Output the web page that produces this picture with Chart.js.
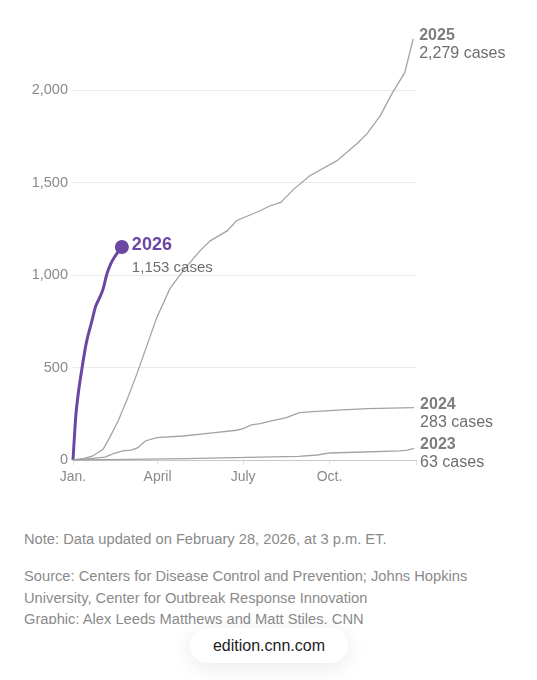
<!DOCTYPE html>
<html>
<head>
<meta charset="utf-8">
<script src="https://cdn.jsdelivr.net/npm/chart.js@4.4.1/dist/chart.umd.min.js"></script>
<style>
  html, body { margin: 0; padding: 0; background: #fff; }
  body { width: 537px; height: 680px; position: relative; overflow: hidden;
         font-family: "Liberation Sans", Arial, sans-serif; }
  #wrap { position: absolute; left: 0; top: 0; width: 537px; height: 500px; }
  .foot { position: absolute; left: 24px; color: #8a8a8a; font-size: 14.7px; line-height: 21.5px; }
  #note { top: 529px; }
  #source { top: 566px; height: 58px; overflow: hidden; }
  #pill { position: absolute; left: 190px; top: 628px; width: 158px; height: 35px;
          border-radius: 18px; background: #fff; color: #1c1c1c; font-size: 16px;
          line-height: 35px; text-align: center;
          box-shadow: 0 4px 22px rgba(0,0,0,0.09); }
</style>
</head>
<body>
<div id="wrap"><canvas id="chart" width="537" height="500"></canvas></div>
<div class="foot" id="note">Note: Data updated on February 28, 2026, at 3 p.m. ET.</div>
<div class="foot" id="source">Source: Centers for Disease Control and Prevention; Johns Hopkins<br>University, Center for Outbreak Response Innovation<br>Graphic: Alex Leeds Matthews and Matt Stiles, CNN</div>
<div id="pill">edition.cnn.com</div>
<script>
// Cumulative measles cases by day of year
const days2023 = [0, 60, 120, 199, 240, 260, 273, 300, 348, 356, 363];
const cases2023 = [0, 3, 7, 16, 20, 27, 38, 42, 49, 54, 63];

const days2024 = [0, 21, 34, 43, 53, 62, 69, 77, 89, 117, 146, 174, 181, 190, 199, 210, 227, 241, 255, 287, 313, 363];
const cases2024 = [0, 9, 16, 34, 49, 53, 67, 103, 121, 130, 145, 161, 170, 190, 197, 211, 229, 256, 262, 271, 278, 283];

const days2025 = [0, 12, 21, 32, 39, 48, 57, 68, 89, 103, 117, 135, 146, 164, 174, 199, 210, 221, 235, 252, 281, 302, 313, 327, 340, 353, 362];
const cases2025 = [0, 9, 22, 58, 121, 211, 320, 466, 769, 926, 1024, 1132, 1186, 1240, 1295, 1349, 1376, 1394, 1466, 1538, 1620, 1712, 1766, 1864, 1988, 2096, 2279];

const days2026 = [0, 3, 6, 10, 14, 20, 24, 28, 32, 36, 40, 45, 52];
const cases2026 = [0, 240, 375, 510, 630, 750, 830, 875, 925, 1005, 1060, 1105, 1153];

const years = ['2023', '2024', '2025', '2026'];
const monthTicks = [0, 90, 181, 273];
const monthLabels = ['Jan.', 'April', 'July', 'Oct.'];
const yTicks = [0, 500, 1000, 1500, 2000];

const grey = '#a3a3a3';
const purple = '#6b46a3';

function toPoints(xs, ys) {
  return xs.map((d, i) => ({ x: d, y: ys[i] }));
}

const series = [
  toPoints(days2023, cases2023),
  toPoints(days2024, cases2024),
  toPoints(days2025, cases2025),
  toPoints(days2026, cases2026)
];

// labels at the end of each line
const endLabels = {
  id: 'endLabels',
  afterDatasetsDraw(chart) {
    const ctx = chart.ctx;
    ctx.save();
    ctx.textAlign = 'left';
    ctx.textBaseline = 'alphabetic';
    chart.data.datasets.forEach((ds, i) => {
      const pts = chart.getDatasetMeta(i).data;
      const p = pts[pts.length - 1];
      const last = ds.data[ds.data.length - 1].y;
      const sub = last.toLocaleString('en-US') + ' cases';
      if (i === 3) {
        ctx.fillStyle = purple;
        ctx.font = 'bold 18px "Liberation Sans", Arial, sans-serif';
        ctx.fillText(ds.label, p.x + 10, p.y + 3);
        ctx.fillStyle = '#6e6e6e';
        ctx.font = '15px "Liberation Sans", Arial, sans-serif';
        ctx.fillText(sub, p.x + 10, p.y + 25);
      } else {
        ctx.fillStyle = '#7d7d7d';
        ctx.font = 'bold 16px "Liberation Sans", Arial, sans-serif';
        ctx.fillText(ds.label, p.x + 6, p.y + 1);
        ctx.fillStyle = '#6e6e6e';
        ctx.font = '16px "Liberation Sans", Arial, sans-serif';
        ctx.fillText(sub, p.x + 6, p.y + 19);
      }
    });
    ctx.restore();
  }
};

new Chart(document.getElementById('chart'), {
  type: 'line',
  data: {
    datasets: series.map((pts, i) => ({
      label: years[i],
      data: pts,
      borderColor: i === 3 ? purple : grey,
      backgroundColor: i === 3 ? purple : grey,
      borderWidth: i === 3 ? 3 : 1.3,
      cubicInterpolationMode: i === 3 ? 'monotone' : 'default',
      tension: 0,
      pointRadius: ctx => (i === 3 && ctx.dataIndex === pts.length - 1) ? 5.5 : 0,
      pointHoverRadius: 0,
      clip: false
    }))
  },
  options: {
    responsive: false,
    animation: false,
    events: [],
    layout: { padding: { top: 35, right: 121, bottom: 10, left: 0 } },
    plugins: { legend: { display: false }, tooltip: { enabled: false } },
    scales: {
      x: {
        type: 'linear',
        min: 0,
        max: 365,
        afterBuildTicks: s => { s.ticks = monthTicks.concat([365]).map(v => ({ value: v })); },
        afterFit: s => { s.height = 30; },
        ticks: {
          color: '#8a8a8a',
          font: { family: '"Liberation Sans", Arial, sans-serif', size: 14 },
          padding: 4,
          maxRotation: 0,
          autoSkip: false,
          callback: v => {
            const k = monthTicks.indexOf(v);
            return k >= 0 ? monthLabels[k] : '';
          }
        },
        grid: { drawOnChartArea: false, drawTicks: true, tickLength: 5, color: '#e2e2e2' },
        border: { color: '#c8c8c8', width: 1 }
      },
      y: {
        min: 0,
        max: 2300,
        afterBuildTicks: s => { s.ticks = yTicks.map(v => ({ value: v })); },
        afterFit: s => { s.width = 73; },
        ticks: {
          color: '#8a8a8a',
          font: { family: '"Liberation Sans", Arial, sans-serif', size: 14.5 },
          padding: 5,
          callback: v => v.toLocaleString('en-US')
        },
        grid: { color: '#ebebeb', drawTicks: false, lineWidth: 1 },
        border: { display: false }
      }
    }
  },
  plugins: [endLabels]
});
</script>
</body>
</html>
